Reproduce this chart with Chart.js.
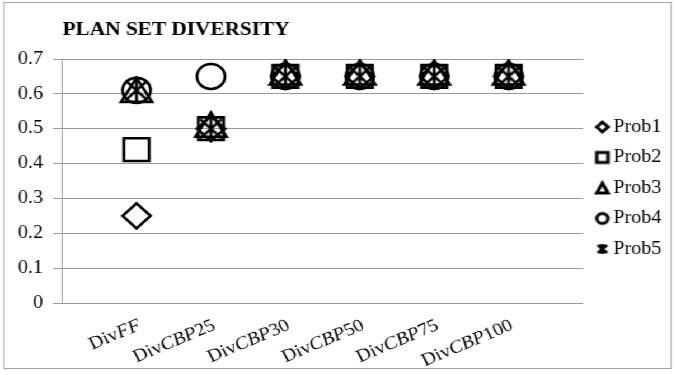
<!DOCTYPE html>
<html>
<head>
<meta charset="utf-8">
<script src="https://cdn.jsdelivr.net/npm/chart.js@4/dist/chart.umd.min.js"></script>
<style>
  html, body { margin: 0; padding: 0; background: #fff; overflow: hidden; }
  #stage { position: absolute; left: 0; top: 0; width: 604px; height: 375px;
           transform: scaleX(1.1192); transform-origin: 0 0; }
  #frame { position: absolute; left: 3px; top: 2px; width: 597px; height: 367px;
           border: 1px solid #a6a6a6; box-sizing: border-box; }
  #c { position: absolute; left: 0; top: 0; }
</style>
</head>
<body>
<div id="stage">
  <div id="frame"></div>
  <canvas id="c" width="604" height="375"></canvas>
</div>
<script>
// Plan set diversity per method, one series per problem
const TITLE = 'PLAN SET DIVERSITY';
const categories = ['DivFF', 'DivCBP25', 'DivCBP30', 'DivCBP50', 'DivCBP75', 'DivCBP100'];
const seriesNames = ['Prob1', 'Prob2', 'Prob3', 'Prob4', 'Prob5'];
const prob1 = [0.25, 0.50, 0.65, 0.65, 0.65, 0.65];
const prob2 = [0.44, 0.50, 0.65, 0.65, 0.65, 0.65];
const prob3 = [0.60, 0.50, 0.65, 0.65, 0.65, 0.65];
const prob4 = [0.61, 0.65, 0.65, 0.65, 0.65, 0.65];
const prob5 = [0.61, 0.50, 0.65, 0.65, 0.65, 0.65];
const yTicks = [0, 0.1, 0.2, 0.3, 0.4, 0.5, 0.6, 0.7];

const FONT = '"Liberation Serif", "Times New Roman", serif';
Chart.defaults.font.family = FONT;
Chart.defaults.font.size = 18;
Chart.defaults.color = '#000';

// Hollow marker drawn on a small canvas; dx shifts the shape inside the canvas
function marker(kind, size, lw, dx = 0) {
  const pad = Math.ceil(lw) + 1 + Math.ceil(Math.abs(dx));
  const c = document.createElement('canvas');
  c.width = c.height = Math.ceil(size + 2 * pad);
  const g = c.getContext('2d');
  const m = c.width / 2, h = size / 2;
  const cx = m + dx;
  g.strokeStyle = '#000';
  g.lineWidth = lw;
  g.lineJoin = 'miter';
  g.beginPath();
  if (kind === 'diamond') {
    g.moveTo(cx, m - h); g.lineTo(cx + h, m); g.lineTo(cx, m + h); g.lineTo(cx - h, m); g.closePath();
  } else if (kind === 'square') {
    g.rect(cx - h, m - h, size, size);
  } else if (kind === 'triangle') {
    g.moveTo(cx, m - h); g.lineTo(cx + h, m + h); g.lineTo(cx - h, m + h); g.closePath();
  } else if (kind === 'circle') {
    g.arc(cx, m, h, 0, Math.PI * 2);
  } else if (kind === 'star') {
    g.moveTo(cx, m - h); g.lineTo(cx, m + h);
    g.moveTo(cx - h * 0.8, m - h * 0.8); g.lineTo(cx + h * 0.8, m + h * 0.8);
    g.moveTo(cx + h * 0.8, m - h * 0.8); g.lineTo(cx - h * 0.8, m + h * 0.8);
  }
  g.stroke();
  return c;
}

const legendKinds = ['diamond', 'square', 'triangle', 'circle', 'star'];
const legendMarkers = legendKinds.map(k => marker(k, 10, 3, 2));
const asterisk = marker('star', 24, 2.6);

const seriesValues = [prob1, prob2, prob3, prob4, prob5];
const pointStyles = ['rectRot', 'rect', 'triangle', 'circle', asterisk];
const pointRadii = [12.5, 16, 16, 12.5, 12];

const datasets = seriesValues.map((vals, s) => ({
  label: seriesNames[s],
  data: vals.map((v, i) => ({ x: i + 1, y: v })),
  pointStyle: pointStyles[s],
  pointRadius: pointRadii[s],
  pointHoverRadius: pointRadii[s],
  pointBorderWidth: 2.6,
  pointBorderColor: '#000',
  pointBackgroundColor: 'rgba(0,0,0,0)',
  borderColor: '#000',
  backgroundColor: 'rgba(0,0,0,0)',
  showLine: false
}));

// Title and category labels (method prefix upright, variant letters italic)
const textPlugin = {
  id: 'textPlugin',
  afterDraw(chart) {
    const ctx = chart.ctx;
    const xs = chart.scales.x;
    ctx.save();
    ctx.fillStyle = '#000';
    ctx.font = 'bold 19px ' + FONT;
    ctx.textAlign = 'left';
    ctx.textBaseline = 'alphabetic';
    ctx.fillText(TITLE, 56, 35);

    categories.forEach((name, i) => {
      const m = name.match(/^(Div)([A-Z]+)(\d*)$/);
      const segs = [[m[1], 'normal'], [m[2], 'italic'], [m[3], 'normal']];
      let total = 0;
      segs.forEach(([t, st]) => { ctx.font = st + ' 18px ' + FONT; total += ctx.measureText(t).width; });
      ctx.save();
      ctx.translate(xs.getPixelForValue(i + 1) + 5, xs.top + 26);
      ctx.rotate(-25 * Math.PI / 180);
      let cx = -total;
      segs.forEach(([t, st]) => {
        ctx.font = st + ' 18px ' + FONT;
        ctx.fillText(t, cx, 0);
        cx += ctx.measureText(t).width;
      });
      ctx.restore();
    });
    ctx.restore();
  }
};

new Chart(document.getElementById('c'), {
  type: 'scatter',
  data: { datasets },
  plugins: [textPlugin],
  options: {
    responsive: false,
    animation: false,
    devicePixelRatio: 1,
    layout: { padding: { left: 7, right: 3, top: 59, bottom: 72 } },
    plugins: {
      tooltip: { enabled: false },
      title: { display: false },
      legend: {
        position: 'right',
        align: 'center',
        title: { display: true, text: ' ', font: { size: 10 }, padding: { top: 0, bottom: 2 } },
        labels: {
          usePointStyle: true,
          pointStyleWidth: 5.5,
          padding: 12.5,
          color: '#000',
          font: { size: 18 },
          generateLabels(chart) {
            return chart.data.datasets.map((ds, i) => ({
              text: ds.label,
              pointStyle: legendMarkers[i],
              fillStyle: 'rgba(0,0,0,0)',
              strokeStyle: 'rgba(0,0,0,0)',
              lineWidth: 0,
              fontColor: '#000',
              hidden: false,
              datasetIndex: i
            }));
          }
        }
      }
    },
    scales: {
      x: {
        type: 'linear',
        min: 0,
        max: 7,
        grid: { display: false, drawTicks: false },
        border: { display: true, color: '#9a9a9a', width: 1 },
        ticks: { display: false }
      },
      y: {
        min: 0,
        max: 0.7,
        afterBuildTicks(scale) { scale.ticks = yTicks.map(v => ({ value: v })); },
        grid: { color: '#9a9a9a', lineWidth: 1, tickLength: 8, drawTicks: true },
        border: { display: true, color: '#9a9a9a', width: 1 },
        ticks: {
          padding: 9,
          color: '#000',
          font: { size: 18 },
          callback: v => String(Math.round(v * 10) / 10)
        }
      }
    }
  }
});
</script>
</body>
</html>
